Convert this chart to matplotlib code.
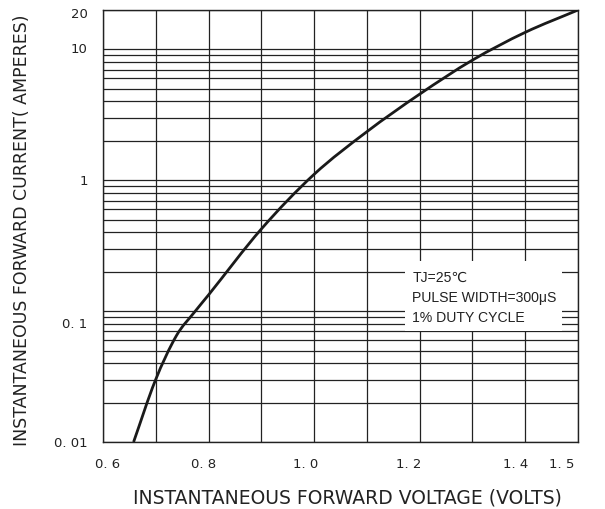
import numpy as np
import matplotlib
matplotlib.use("Agg")
import matplotlib.pyplot as plt
from matplotlib.ticker import FixedLocator, MultipleLocator, LogLocator, NullFormatter
from matplotlib.patches import Rectangle, PathPatch
from matplotlib.path import Path
import matplotlib.transforms as mtransforms

# forward voltage (V) vs forward current (A)
volts = [0.658, 0.699, 0.739, 0.774, 0.800, 0.900, 1.000, 1.100, 1.200, 1.300, 1.400, 1.500]
amps = [0.010, 0.0294, 0.0648, 0.099, 0.133, 0.424, 1.11, 2.35, 4.55, 8.28, 13.5, 20.0]

x_ticks = [0.6, 0.8, 1.0, 1.2, 1.4, 1.5]
x_labels = ["0. 6", "0. 8", "1. 0", "1. 2", "1. 4", "1. 5"]
y_ticks = [0.01, 0.1, 1, 10, 20]
y_labels = ["0. 01", "0. 1", "1", "10", "20"]

note_lines = ["TJ=25\u2103", "PULSE WIDTH=300\u03bcS", "1% DUTY CYCLE"]

fig = plt.figure(figsize=(6.05, 5.09), dpi=100)
ax = fig.add_axes([0.1702, 0.1316, 0.7851, 0.8487])

ax.set_yscale("log")
ax.set_xlim(0.6, 1.5)
ax.set_ylim(0.01, 20)

ax.xaxis.set_major_locator(FixedLocator(x_ticks))
ax.xaxis.set_minor_locator(MultipleLocator(0.1))
ax.set_xticklabels(x_labels)
ax.yaxis.set_major_locator(FixedLocator(y_ticks))
ax.yaxis.set_minor_locator(LogLocator(base=10, subs=np.arange(2, 10)))
ax.yaxis.set_minor_formatter(NullFormatter())
ax.set_yticklabels(y_labels)

ax.tick_params(which="both", length=0, labelcolor="#222222")
ax.tick_params(axis="x", pad=11.5, labelsize=9.5)
ax.tick_params(axis="y", pad=11, labelsize=9.5)

# labels in the original sit a bit left of their grid lines
x_shift = [5, -5, -8, -11, -10, -16]
for lab, dx in zip(ax.get_xticklabels(), x_shift):
    off = mtransforms.ScaledTranslation(dx / 100, 0, fig.dpi_scale_trans)
    lab.set_transform(lab.get_transform() + off)
y_shift = [0, -12, 0, 1, -3]
for lab, dy in zip(ax.get_yticklabels(), y_shift):
    off = mtransforms.ScaledTranslation(0, dy / 100, fig.dpi_scale_trans)
    lab.set_transform(lab.get_transform() + off)

ax.set_axisbelow(True)
ax.grid(True, which="both", color="#222222", linewidth=0.9)
for s in ax.spines.values():
    s.set_color("#222222")
    s.set_linewidth(1.0)

# smooth curve through the read points: cubic Bezier segments in (V, log I)
vx = np.array(volts)
lu = np.log10(amps)
n = len(vx)
slope = np.zeros(n)
slope[0] = (lu[1] - lu[0]) / (vx[1] - vx[0])
slope[-1] = (lu[-1] - lu[-2]) / (vx[-1] - vx[-2])
for i in range(1, n - 1):
    slope[i] = (lu[i + 1] - lu[i - 1]) / (vx[i + 1] - vx[i - 1])
verts = [(vx[0], amps[0])]
codes = [Path.MOVETO]
for i in range(n - 1):
    h = vx[i + 1] - vx[i]
    verts.append((vx[i] + h / 3, 10 ** (lu[i] + slope[i] * h / 3)))
    verts.append((vx[i + 1] - h / 3, 10 ** (lu[i + 1] - slope[i + 1] * h / 3)))
    verts.append((vx[i + 1], amps[i + 1]))
    codes += [Path.CURVE4] * 3
ax.add_patch(PathPatch(Path(verts, codes), facecolor="none", edgecolor="#1a1a1a",
                       linewidth=2.0, zorder=3))

# white note box covering the grid
ax.add_patch(Rectangle((0.636, 0.257), 0.33, 0.162, transform=ax.transAxes,
                       facecolor="white", edgecolor="none", zorder=2))
for i, line in enumerate(note_lines):
    ax.text(0.651, 0.380 - i * 0.0463, line, transform=ax.transAxes,
            fontsize=10.1, va="center", ha="left", color="#222222", zorder=4,
            family=["Liberation Sans", "DejaVu Sans"])

ax.set_xlabel("INSTANTANEOUS FORWARD VOLTAGE (VOLTS)", fontsize=13.5,
              color="#222222")
ax.set_ylabel("INSTANTANEOUS FORWARD CURRENT( AMPERES)", fontsize=12.5,
              color="#222222")
ax.xaxis.set_label_coords(0.515, -0.108)
ax.yaxis.set_label_coords(-0.152, 0.49)

fig.savefig("out.png", dpi=100)
